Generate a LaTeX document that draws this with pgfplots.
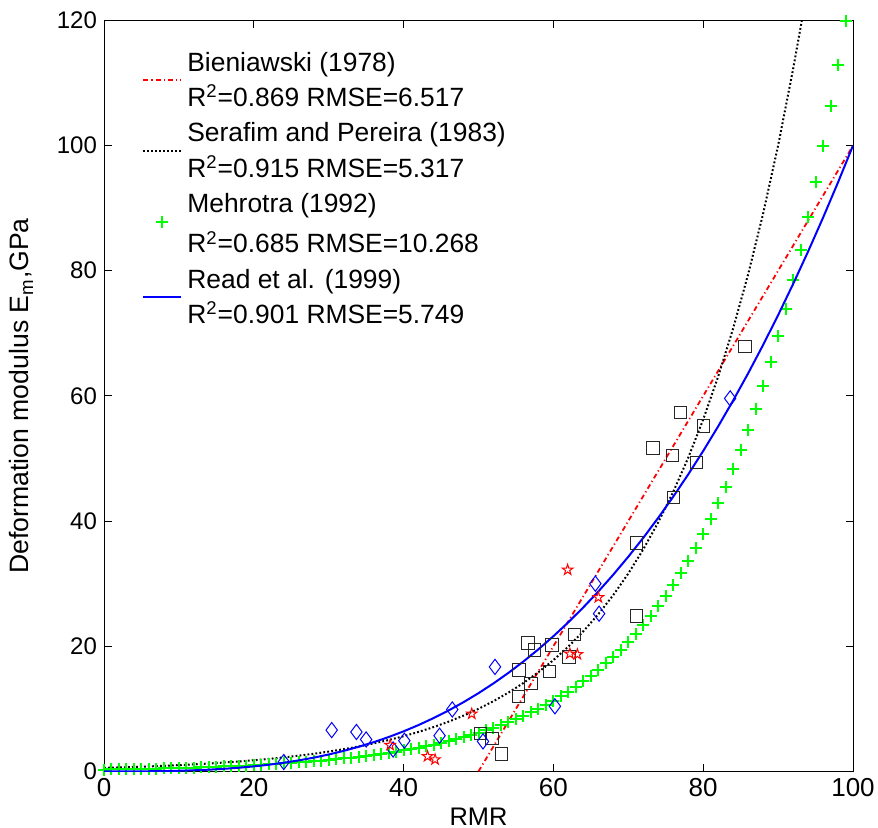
\documentclass[border=0pt]{standalone}
\usepackage{pgfplots}
\pgfplotsset{compat=1.18}
\usepackage{fontspec}
\setmainfont{Liberation Sans}
\pgfdeclareplotmark{pentagram}{%
  \pgfpathmoveto{\pgfpointpolar{90}{\pgfplotmarksize}}%
  \pgfpathlineto{\pgfpointpolar{126}{0.382\pgfplotmarksize}}%
  \pgfpathlineto{\pgfpointpolar{162}{\pgfplotmarksize}}%
  \pgfpathlineto{\pgfpointpolar{198}{0.382\pgfplotmarksize}}%
  \pgfpathlineto{\pgfpointpolar{234}{\pgfplotmarksize}}%
  \pgfpathlineto{\pgfpointpolar{270}{0.382\pgfplotmarksize}}%
  \pgfpathlineto{\pgfpointpolar{306}{\pgfplotmarksize}}%
  \pgfpathlineto{\pgfpointpolar{342}{0.382\pgfplotmarksize}}%
  \pgfpathlineto{\pgfpointpolar{18}{\pgfplotmarksize}}%
  \pgfpathlineto{\pgfpointpolar{54}{0.382\pgfplotmarksize}}%
  \pgfpathclose\pgfusepathqstroke}
\begin{document}
\begin{tikzpicture}
\begin{axis}[
  name=ax,
  scale only axis,
  width=374.5pt, height=375.5pt,
  xmin=0, xmax=100, ymin=0, ymax=120,
  xtick={0,20,...,100}, ytick={0,20,...,120},
  tick align=inside, tickpos=both,
  major tick length=3.75pt,
  axis line style={line width=0.5pt},
  every tick/.style={black, line width=0.5pt},
  /pgf/number format/assume math mode=true,
  yticklabel style={font=\fontsize{12}{14}\selectfont},
  xticklabel style={font=\fontsize{13}{15}\selectfont},
  xlabel style={font=\fontsize{12.7}{15}\selectfont, yshift=1.5pt},
  ylabel style={font=\fontsize{13.3}{15}\selectfont},
  ylabel shift=5pt,
  xlabel={RMR},
  ylabel={Deformation modulus E\textsubscript{m},GPa},
  clip mode=individual,
  legend image code/.code={\draw[mark repeat=2,mark phase=2,yshift=-4.65pt,#1] plot coordinates {(0pt,0pt) (9.5pt,0pt) (19pt,0pt)};},
  legend style={draw=none, fill=none, at={(0.0507,0.9661)}, anchor=north west,
    inner sep=0pt, column sep=2.5pt, row sep=0pt,
    font=\fontsize{13.2}{15}\selectfont,
    cells={anchor=base west},
    nodes={inner sep=0pt, text height=12.4pt, text depth=5.3pt}},
]
% Bieniawski
\addplot[red, line width=0.9pt, dash pattern=on 2.5pt off 1.5pt on 0.6pt off 1.5pt] coordinates {(50,0) (100,100)};
\addlegendentry{Bieniawski (1978)}
\addlegendimage{empty legend}
\addlegendentry{R\textsuperscript{2}=0.869 RMSE=6.517}
% Serafim and Pereira
\addplot[black, line width=1pt, dash pattern=on 0.9pt off 1.1pt] coordinates {
(0,0.5623) (2,0.6310) (4,0.7079) (6,0.7943) (8,0.8913) (10,1) (12,1.122) (14,1.259) (16,1.413) (18,1.585)
(20,1.778) (22,1.995) (24,2.239) (26,2.512) (28,2.818) (30,3.162) (32,3.548) (34,3.981) (36,4.467) (38,5.012)
(40,5.623) (42,6.310) (44,7.079) (46,7.943) (48,8.913) (50,10) (52,11.22) (54,12.59) (56,14.13) (58,15.85)
(60,17.78) (62,19.95) (64,22.39) (66,25.12) (68,28.18) (70,31.62) (72,35.48) (74,39.81) (76,44.67) (78,50.12)
(80,56.23) (82,63.10) (84,70.79) (86,79.43) (88,89.13) (90,100) (92,112.2) (93.17,120)};
\addlegendentry{Serafim and Pereira (1983)}
\addlegendimage{empty legend}
\addlegendentry{R\textsuperscript{2}=0.915 RMSE=5.317}
% Mehrotra
\addplot[only marks, mark=+, mark size=3pt, color={rgb,1:red,0;green,1;blue,0}, mark options={line width=1pt}] coordinates {
(0,0.2976) (1,0.3162) (2,0.3360) (3,0.3570) (4,0.3793) (5,0.4030) (6,0.4281) (7,0.4549) (8,0.4833) (9,0.5135)
(10,0.5456) (11,0.5796) (12,0.6159) (13,0.6543) (14,0.6952) (15,0.7386) (16,0.7848) (17,0.8338) (18,0.8859) (19,0.9412)
(20,1) (21,1.0625) (22,1.1288) (23,1.1994) (24,1.2743) (25,1.3539) (26,1.4385) (27,1.5283) (28,1.6238) (29,1.7252)
(30,1.8330) (31,1.9475) (32,2.0691) (33,2.1984) (34,2.3357) (35,2.4816) (36,2.6367) (37,2.8014) (38,2.9764) (39,3.1623)
(40,3.3598) (41,3.5697) (42,3.7927) (43,4.0296) (44,4.2813) (45,4.5488) (46,4.8329) (47,5.1348) (48,5.4556) (49,5.7964)
(50,6.1585) (51,6.5432) (52,6.9520) (53,7.3862) (54,7.8476) (55,8.3379) (56,8.8587) (57,9.4121) (58,10) (59,10.625)
(60,11.288) (61,11.994) (62,12.743) (63,13.539) (64,14.385) (65,15.283) (66,16.238) (67,17.252) (68,18.330) (69,19.475)
(70,20.691) (71,21.984) (72,23.357) (73,24.816) (74,26.367) (75,28.014) (76,29.764) (77,31.623) (78,33.598) (79,35.697)
(80,37.927) (81,40.296) (82,42.813) (83,45.488) (84,48.329) (85,51.348) (86,54.556) (87,57.964) (88,61.585) (89,65.432)
(90,69.520) (91,73.862) (92,78.476) (93,83.379) (94,88.587) (95,94.121) (96,100) (97,106.25) (98,112.88) (99,119.94)};
\addlegendentry{Mehrotra (1992)}
\addlegendimage{empty legend}
\addlegendentry{R\textsuperscript{2}=0.685 RMSE=10.268}
% Read et al.
\addplot[blue, line width=1pt] coordinates {
(0,0) (2,0.0008) (4,0.0064) (6,0.0216) (8,0.0512) (10,0.1) (12,0.1728) (14,0.2744) (16,0.4096) (18,0.5832)
(20,0.8) (22,1.0648) (24,1.3824) (26,1.7576) (28,2.1952) (30,2.7) (32,3.2768) (34,3.9304) (36,4.6656) (38,5.4872)
(40,6.4) (42,7.4088) (44,8.5184) (46,9.7336) (48,11.0592) (50,12.5) (52,14.0608) (54,15.7464) (56,17.5616) (58,19.5112)
(60,21.6) (62,23.8328) (64,26.2144) (66,28.7496) (68,31.4432) (70,34.3) (72,37.3248) (74,40.5224) (76,43.8976) (78,47.4552)
(80,51.2) (82,55.1368) (84,59.2704) (86,63.6056) (88,68.1472) (90,72.9) (92,77.8688) (94,83.0584) (96,88.4736) (98,94.1192) (100,100)};
\addlegendentry{Read et al. (1999)}
\addlegendimage{empty legend}
\addlegendentry{R\textsuperscript{2}=0.901 RMSE=5.749}
% data: squares
\addplot[forget plot, only marks, mark=square, mark size=3.1pt, mark options={black!85, line width=0.5pt}] coordinates {
(50.3,6.1) (51.8,5.3) (53.1,2.8) (55.3,12.0) (55.4,16.2) (56.6,20.5) (57.0,14.0) (57.5,19.4) (59.5,16.0) (59.8,20.2)
(62.1,18.3) (62.8,21.9) (71.1,24.8) (71.1,36.5) (73.3,51.7) (75.9,50.5) (76.0,43.8) (77.0,57.3) (79.1,49.4) (80.0,55.2) (85.6,67.9)};
% data: diamonds
\addplot[forget plot, only marks, mark=diamond, mark size=3.8pt, mark options={blue, line width=0.5pt}] coordinates {
(24.0,1.5) (30.4,6.6) (33.7,6.3) (35.0,5.1) (38.6,3.5) (40.1,4.9) (44.8,5.7) (46.5,9.9) (50.6,4.8) (52.2,16.7)
(60.2,10.4) (65.6,30.0) (66.1,25.2) (83.6,59.6)};
% data: stars
\addplot[forget plot, only marks, mark=pentagram, mark size=2.8pt, mark options={red, line width=0.5pt}] coordinates {
(38.2,4.2) (43.2,2.4) (44.2,1.9) (49.1,9.2) (61.9,32.2) (62.2,18.8) (63.2,18.7) (66.0,27.8)};
\end{axis}
\pgfresetboundingbox
\path ([shift={(-52pt,-28.25pt)}]ax.south west) rectangle ([shift={(12.5pt,10.2pt)}]ax.north east);
\end{tikzpicture}
\end{document}
